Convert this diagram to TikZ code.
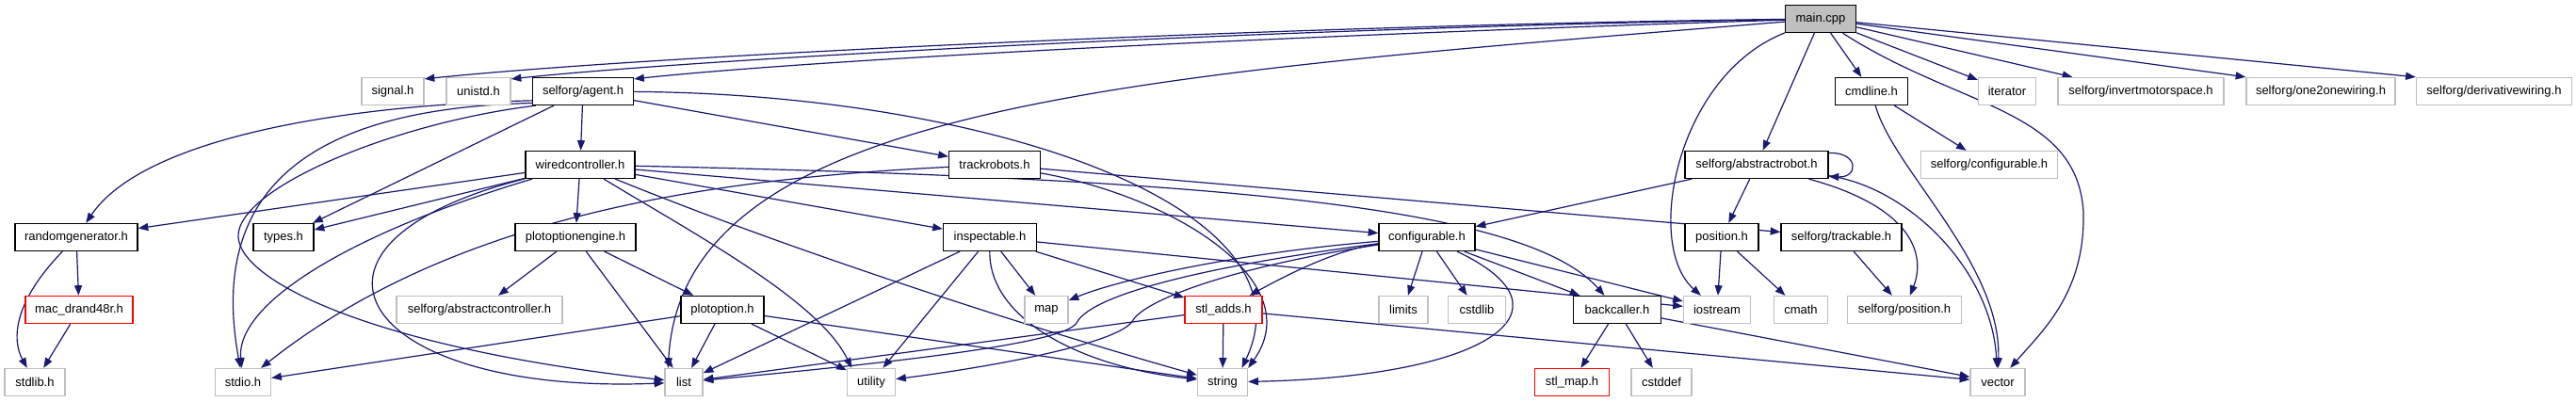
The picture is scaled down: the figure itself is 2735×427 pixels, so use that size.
\documentclass[tikz,border=0pt]{standalone}
\usepackage{fontspec}
\setmainfont{Liberation Sans}
\usetikzlibrary{arrows.meta}
\definecolor{edgec}{HTML}{191970}
\definecolor{greyb}{HTML}{BFBFBF}
\pgfdeclarelayer{edges}
\pgfsetlayers{edges,main}
\begin{document}
\begin{tikzpicture}[x=0.75pt,y=-0.75pt,
  box/.style={draw, fill=white, line width=1pt, inner sep=0pt, minimum height=21.75pt,
              font=\fontsize{9.75}{11}\selectfont},
  bw/.style={minimum width=#1*0.75pt},
  doc/.style={box, draw=black},
  ext/.style={box, draw=greyb},
  miss/.style={box, draw=red},
  e/.style={draw=edgec, line width=0.9pt, -{Triangle[length=8pt,width=6pt]}}]

% ---------- nodes ----------
\node[doc,bw=75,fill=greyb] (main) at (1933,20) {main.cpp};
\node[ext,bw=66]  (signal)   at (417,97)  {signal.h};
\node[ext,bw=68]  (unistd)   at (508,97)  {unistd.h};
\node[doc,bw=107] (agent)    at (619,97)  {selforg/agent.h};
\node[doc,bw=77]  (cmdline)  at (1987,97) {cmdline.h};
\node[ext,bw=61]  (iterator) at (2131,97) {iterator};
\node[ext,bw=176] (invert)   at (2273,97) {selforg/invertmotorspace.h};
\node[ext,bw=158] (one2one)  at (2464,97) {selforg/one2onewiring.h};
\node[ext,bw=165] (deriv)    at (2648,97) {selforg/derivativewiring.h};

\node[doc,bw=116] (wired)    at (616,175)  {wiredcontroller.h};
\node[doc,bw=97]  (track)    at (1056,175) {trackrobots.h};
\node[doc,bw=152] (arobot)   at (1865,175) {selforg/abstractrobot.h};
\node[ext,bw=145] (sconf)    at (2112,175) {selforg/configurable.h};

\node[doc,bw=130] (randgen)  at (81,252)   {randomgenerator.h};
\node[doc,bw=64]  (types)    at (301,252)  {types.h};
\node[doc,bw=128] (poe)      at (611,252)  {plotoptionengine.h};
\node[doc,bw=99]  (insp)     at (1051,252) {inspectable.h};
\node[doc,bw=102] (conf)     at (1515,252) {configurable.h};
\node[doc,bw=78]  (pos)      at (1828,252) {position.h};
\node[doc,bw=128] (trackable) at (1955,252) {selforg/trackable.h};

\node[miss,bw=114] (mac)     at (84,329)   {mac\_drand48r.h};
\node[ext,bw=176] (actrl)    at (509,329)  {selforg/abstractcontroller.h};
\node[doc,bw=88]  (popt)     at (767,329)  {plotoption.h};
\node[ext,bw=46]  (map)      at (1111,329) {map};
\node[miss,bw=82] (stladds)  at (1299,329) {stl\_adds.h};
\node[ext,bw=52]  (limits)   at (1490,329) {limits};
\node[ext,bw=61]  (cstdlib)  at (1568,329) {cstdlib};
\node[doc,bw=93]  (backc)    at (1717,329) {backcaller.h};
\node[ext,bw=71]  (iostream) at (1823,329) {iostream};
\node[ext,bw=57]  (cmath)    at (1912,329) {cmath};
\node[ext,bw=121] (spos)     at (2022,329) {selforg/position.h};

\node[ext,bw=64]  (stdlib)   at (37,406)   {stdlib.h};
\node[ext,bw=59]  (stdio)    at (258,406)  {stdio.h};
\node[ext,bw=40]  (list)     at (726,406)  {list};
\node[ext,bw=51]  (utility)  at (925,406)  {utility};
\node[ext,bw=53]  (string)   at (1298,406) {string};
\node[miss,bw=79] (stlmap)   at (1669,406) {stl\_map.h};
\node[ext,bw=64]  (cstddef)  at (1764,406) {cstddef};
\node[ext,bw=58]  (vector)   at (2121,406) {vector};

\begin{pgfonlayer}{edges}
\fill[white] (0,0) rectangle (2735,427);
\useasboundingbox (0,0) rectangle (2735,427);
% main.cpp
\draw[e] (main) .. controls (1400,26) and (700,58) .. ([yshift=-1.5pt]signal.north east);
\draw[e] (main) .. controls (1350,30) and (750,62) .. ([yshift=-1.5pt]unistd.north east);
\draw[e] (main) .. controls (1300,40) and (850,65) .. ([yshift=-1.5pt]agent.north east);
\draw[e] (main) .. controls (1200,80) and (725,110) .. ([xshift=3pt]list.north west);
\draw[e] (main) .. controls (1780,80) and (1745,260) .. (iostream);
\draw[e] (main) -- (arobot);
\draw[e] (main) -- (cmdline);
\draw[e] (main) -- (iterator);
\draw[e] (main) -- ([xshift=12pt]invert.north west);
\draw[e] (main) -- (one2one.north west);
\draw[e] (main) -- (deriv.north west);
\draw[e] (main) .. controls (2080,115) and (2205,115) .. (2212,225) .. controls (2214,310) and (2170,350) .. (vector);
% agent.h
\draw[e] (agent) -- (wired);
\draw[e] (agent) -- (track);
\draw[e] (agent) .. controls (1050,100) and (1400,220) .. ([xshift=-5pt]string.north east);
\draw[e] ([yshift=4pt]agent.south west) .. controls (350,112) and (150,150) .. (randgen);
\draw[e] ([yshift=2pt]agent.south west) .. controls (330,115) and (220,200) .. (stdio);
\draw[e] ([xshift=3pt]agent.south west) .. controls (420,130) and (250,200) .. (253,252) .. controls (256,300) and (400,370) .. (list);
\draw[e] (agent) -- (types);
% wiredcontroller.h
\draw[e] (wired) -- (randgen);
\draw[e] (wired) -- (types);
\draw[e] (wired) .. controls (380,245) and (250,320) .. (stdio);
\draw[e] (wired) .. controls (280,260) and (380,420) .. (list);
\draw[e] (wired) -- (poe);
\draw[e] (wired) .. controls (740,250) and (870,320) .. ([xshift=4pt]utility.north west);
\draw[e] (wired) .. controls (850,270) and (1100,350) .. (string);
\draw[e] (wired) -- (insp);
\draw[e] (wired) -- (conf);
\draw[e] (wired) .. controls (1300,190) and (1620,220) .. (backc);
% trackrobots.h
\draw[e] (track) .. controls (750,190) and (480,230) .. (stdio);
\draw[e] (track) .. controls (1250,210) and (1390,300) .. (string.north east);
\draw[e] (track) -- (trackable);
% randomgenerator.h
\draw[e] (randgen) .. controls (15,320) and (12,360) .. (stdlib);
\draw[e] (randgen) -- (mac);
\draw[e] (mac) -- (stdlib);
% plotoptionengine.h
\draw[e] (poe) -- (actrl);
\draw[e] (poe) -- (list);
\draw[e] (poe) -- (popt);
% plotoption.h
\draw[e] (popt) -- (stdio);
\draw[e] (popt) -- (list);
\draw[e] (popt) -- (utility);
\draw[e] (popt) -- (string);
% inspectable.h
\draw[e] (insp) -- (list);
\draw[e] (insp) -- (utility);
\draw[e] (insp) .. controls (1050,340) and (1150,390) .. (string);
\draw[e] (insp) -- (map);
\draw[e] (insp) -- (stladds);
\draw[e] (insp) -- (iostream);
% configurable.h
\draw[e] (conf) .. controls (1300,280) and (1160,310) .. (1143,343) .. controls (1130,365) and (950,385) .. (list);
\draw[e] (conf) .. controls (1300,285) and (1215,320) .. (1203,340) .. controls (1190,365) and (1050,390) .. (utility);
\draw[e] (conf) .. controls (1300,270) and (1180,300) .. (map);
\draw[e] (conf) .. controls (1420,265) and (1370,290) .. (stladds);
\draw[e] (conf) -- (limits);
\draw[e] (conf) -- (cstdlib);
\draw[e] (conf) .. controls (1680,330) and (1580,400) .. (string);
\draw[e] (conf) -- (backc);
\draw[e] (conf) -- (iostream);
% stl_adds.h
\draw[e] (stladds) -- (list);
\draw[e] (stladds) -- (string);
\draw[e] (stladds) -- (vector);
% backcaller.h
\draw[e] (backc) -- (stlmap);
\draw[e] (backc) -- (cstddef);
\draw[e] (backc) -- (vector);
% abstractrobot.h
\draw[e] ([yshift=-2pt]arobot.north east) .. controls ([xshift=24pt,yshift=-1pt]arobot.north east) and ([xshift=24pt,yshift=1pt]arobot.south east) .. ([yshift=2pt]arobot.south east);
\draw[e] (arobot) -- (conf);
\draw[e] (arobot) -- (pos);
\draw[e] (arobot) .. controls (2030,220) and (2045,270) .. (spos);
\draw[e] (arobot) .. controls (2030,200) and (2115,290) .. (vector);
% cmdline.h
\draw[e] (cmdline) -- (sconf);
\draw[e] (cmdline) .. controls (2010,180) and (2125,280) .. (vector);
% position.h, trackable.h
\draw[e] (pos) -- (iostream);
\draw[e] (pos) -- (cmath);
\draw[e] (trackable) -- (spos);
\end{pgfonlayer}
\end{tikzpicture}
\end{document}
